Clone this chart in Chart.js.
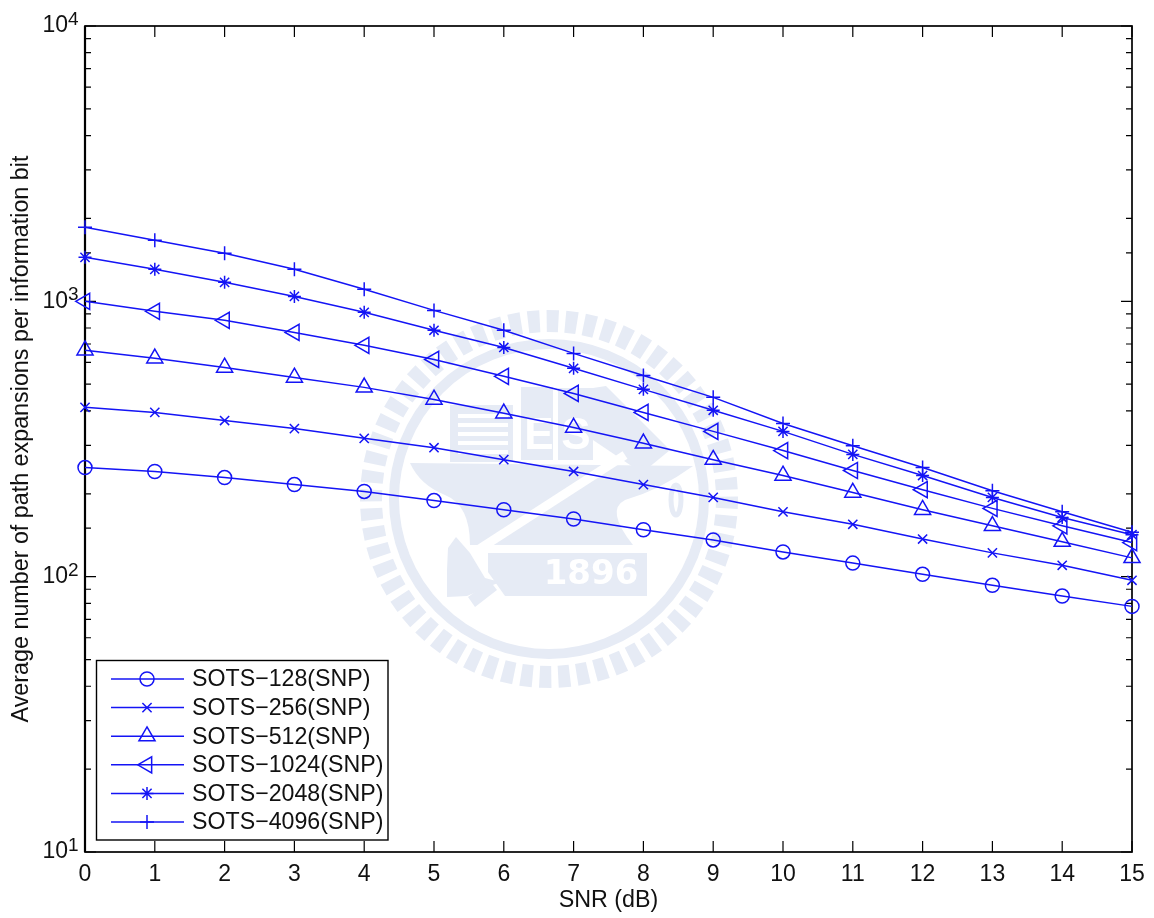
<!DOCTYPE html>
<html>
<head>
<meta charset="utf-8">
<title>SOTS path expansions</title>
<script src="https://cdn.jsdelivr.net/npm/chart.js@4/dist/chart.umd.js"></script>
<style>
  body { margin: 0; background: #fff; }
  canvas { display: block; }
</style>
</head>
<body>
<canvas id="chart" width="1154" height="918"></canvas>
<script>
const snr = ["0","1","2","3","4","5","6","7","8","9","10","11","12","13","14","15"];

const sots128 = [249,241,229,216,204,189,175,162,148,136,123,112,102,93,85,78];
const sots256 = [412,395,369,345,318,294,266,241,216,194,172,155,137,122,110,97];
const sots512 = [664,621,575,529,487,440,392,348,305,266,233,202,175,153,134,117];
const sots1024 = [1000,920,853,771,692,615,534,463,395,337,287,243,207,177,153,133];
const sots2048 = [1445,1307,1172,1042,912,785,680,571,479,402,337,278,233,194,164,142];
const sots4096 = [1858,1667,1495,1307,1106,927,785,647,538,448,360,299,249,205,172,145];

const seriesNames = ["SOTS\u2212128(SNP)","SOTS\u2212256(SNP)","SOTS\u2212512(SNP)","SOTS\u22121024(SNP)","SOTS\u22122048(SNP)","SOTS\u22124096(SNP)"];

const BLUE = "#1414f5";
const FONT = '"Liberation Sans", Arial, sans-serif';
const PALE = "#e6ebf5";

function makeSeries(name, data, style, radius, rotation) {
  return {
    label: name, data: data,
    borderColor: BLUE, borderWidth: 1.5, tension: 0, clip: false,
    pointStyle: style, pointRadius: radius, pointRotation: rotation || 0,
    pointBorderColor: BLUE, pointBackgroundColor: "rgba(0,0,0,0)", pointBorderWidth: 1.5
  };
}

function poly(ctx, pts) {
  ctx.beginPath();
  pts.forEach((p, i) => i ? ctx.lineTo(p[0], p[1]) : ctx.moveTo(p[0], p[1]));
  ctx.closePath();
  ctx.fill();
}

// university seal behind the plot
function drawSeal(ctx) {
  const cx = 549, cy = 499;
  ctx.save();
  ctx.fillStyle = PALE;
  ctx.strokeStyle = PALE;

  for (let i = 0; i < 60; i++) {
    const a = i * Math.PI / 30 + 0.02;
    const d = 0.033;
    ctx.beginPath();
    ctx.moveTo(cx + 167 * Math.cos(a - d), cy + 167 * Math.sin(a - d));
    ctx.lineTo(cx + 189 * Math.cos(a - d), cy + 189 * Math.sin(a - d));
    ctx.lineTo(cx + 189 * Math.cos(a + d), cy + 189 * Math.sin(a + d));
    ctx.lineTo(cx + 167 * Math.cos(a + d), cy + 167 * Math.sin(a + d));
    ctx.closePath();
    ctx.fill();
  }
  ctx.lineWidth = 10;
  ctx.beginPath();
  ctx.arc(cx, cy, 155, 0, Math.PI * 2);
  ctx.stroke();

  // striped block
  ctx.fillRect(450, 405, 63, 57);
  ctx.fillStyle = "#fff";
  for (let y = 414; y < 458; y += 9) ctx.fillRect(458, y, 50, 4);
  ctx.fillStyle = PALE;

  // letter blocks
  ctx.fillRect(521, 387, 32, 73);
  ctx.fillRect(558, 388, 35, 72);
  ctx.fillStyle = "#fff";
  ctx.font = 'bold 44px ' + FONT;
  ctx.textAlign = "center";
  ctx.textBaseline = "middle";
  ctx.fillText("E", 539, 437);
  ctx.fillText("S", 576, 437);
  ctx.fillStyle = PALE;

  // slanted shape on the right
  poly(ctx, [[593,388],[606,386],[670,450],[642,473],[593,440]]);

  // anvil
  ctx.beginPath();
  ctx.moveTo(410, 463);
  ctx.lineTo(693, 466);
  ctx.quadraticCurveTo(660, 490, 625, 500);
  ctx.quadraticCurveTo(605, 510, 633, 545);
  ctx.lineTo(516, 545);
  ctx.lineTo(470, 545);
  ctx.quadraticCurveTo(470, 505, 445, 495);
  ctx.quadraticCurveTo(420, 485, 410, 463);
  ctx.closePath();
  ctx.fill();

  // white handle across the anvil
  ctx.strokeStyle = "#fff";
  ctx.lineWidth = 9;
  ctx.beginPath();
  ctx.moveTo(625, 455);
  ctx.lineTo(470, 555);
  ctx.stroke();
  ctx.strokeStyle = PALE;

  // hammer head
  poly(ctx, [[456,537],[470,553],[485,578],[500,582],[467,596],[447,597],[447,570],[448,548]]);
  poly(ctx, [[468,597],[490,581],[497,590],[475,607]]);

  // 1896 banner
  poly(ctx, [[488,553],[647,553],[647,596],[505,596],[488,572]]);
  ctx.fillStyle = "#fff";
  ctx.font = 'bold 34px "DejaVu Sans", sans-serif';
  ctx.textAlign = "center";
  ctx.fillText("1896", 591, 575);
  ctx.fillStyle = PALE;

  // small 0 on the right
  ctx.lineWidth = 5;
  ctx.beginPath();
  ctx.ellipse(676, 500, 5, 15, 0, 0, Math.PI * 2);
  ctx.stroke();
  ctx.restore();
}

const figurePlugin = {
  id: "figure",
  beforeDraw(chart) {
    const ctx = chart.ctx;
    ctx.save();
    ctx.fillStyle = "#fff";
    ctx.fillRect(0, 0, chart.width, chart.height);
    ctx.restore();
    drawSeal(ctx);
  },
  beforeDatasetsDraw(chart) {
    const ctx = chart.ctx, a = chart.chartArea;
    const xs = chart.scales.x, ys = chart.scales.y;
    ctx.save();
    ctx.strokeStyle = "#000";
    ctx.lineWidth = 1.2;
    xs.ticks.forEach((t, i) => {
      const x = xs.getPixelForTick(i);
      ctx.beginPath();
      ctx.moveTo(x, a.bottom); ctx.lineTo(x, a.bottom - 11);
      ctx.moveTo(x, a.top); ctx.lineTo(x, a.top + 11);
      ctx.stroke();
    });
    ys.ticks.forEach(t => {
      const y = ys.getPixelForValue(t.value);
      const len = Number.isInteger(Math.log10(t.value)) ? 11 : 6;
      ctx.beginPath();
      ctx.moveTo(a.left, y); ctx.lineTo(a.left + len, y);
      ctx.moveTo(a.right, y); ctx.lineTo(a.right - len, y);
      ctx.stroke();
    });
    ctx.lineWidth = 1.7;
    ctx.strokeRect(a.left, a.top, a.right - a.left, a.bottom - a.top);
    ctx.lineWidth = 2.2;
    ctx.beginPath();
    ctx.moveTo(a.left, a.top); ctx.lineTo(a.left, a.bottom);
    ctx.stroke();

    // exponents of the decade labels
    ctx.fillStyle = "#111";
    ctx.font = "19px " + FONT;
    ctx.textAlign = "left";
    ctx.textBaseline = "alphabetic";
    ys.ticks.forEach(t => {
      const e = Math.log10(t.value);
      if (Number.isInteger(e)) ctx.fillText(String(e), 68, ys.getPixelForValue(t.value) - 1);
    });
    ctx.restore();
  },
  afterDatasetsDraw(chart) {
    // legend with line and marker samples
    const ctx = chart.ctx;
    ctx.save();
    ctx.fillStyle = "#fff";
    ctx.fillRect(96.5, 660.5, 291.5, 179.5);
    ctx.strokeStyle = "#000";
    ctx.lineWidth = 1.4;
    ctx.strokeRect(96.5, 660.5, 291.5, 179.5);
    chart.data.datasets.forEach((ds, i) => {
      const y = 679 + i * 28.6;
      ctx.strokeStyle = BLUE;
      ctx.lineWidth = 1.5;
      ctx.beginPath();
      ctx.moveTo(111, y); ctx.lineTo(184, y);
      ctx.stroke();
      ctx.fillStyle = "rgba(0,0,0,0)";
      Chart.helpers.drawPoint(ctx, {
        pointStyle: ds.pointStyle, radius: ds.pointRadius,
        rotation: ds.pointRotation, borderWidth: 1.5
      }, 147, y);
      ctx.fillStyle = "#111";
      ctx.font = "23.2px " + FONT;
      ctx.textAlign = "left";
      ctx.textBaseline = "middle";
      ctx.fillText(ds.label, 192, y + 1);
    });
    ctx.restore();
  }
};

new Chart(document.getElementById("chart"), {
  type: "line",
  data: {
    labels: snr,
    datasets: [
      makeSeries(seriesNames[0], sots128, "circle", 7),
      makeSeries(seriesNames[1], sots256, "crossRot", 6.5),
      makeSeries(seriesNames[2], sots512, "triangle", 9.3),
      makeSeries(seriesNames[3], sots1024, "triangle", 9.3, -90),
      makeSeries(seriesNames[4], sots2048, "star", 6.5),
      makeSeries(seriesNames[5], sots4096, "cross", 7)
    ]
  },
  plugins: [figurePlugin],
  options: {
    responsive: false,
    animation: false,
    devicePixelRatio: 1,
    layout: { padding: { top: 26, right: 22, left: 0, bottom: 0 } },
    plugins: { legend: { display: false }, tooltip: { enabled: false } },
    scales: {
      x: {
        grid: { display: false, drawTicks: false },
        border: { display: false },
        afterFit(s) { s.height = 66; },
        ticks: {
          color: "#111", maxRotation: 0, autoSkip: false, padding: 9,
          font: { family: FONT, size: 23 }
        },
        title: {
          display: true, text: "SNR (dB)", color: "#111",
          font: { family: FONT, size: 23.3 }, padding: { top: 0, bottom: 3 }
        }
      },
      y: {
        type: "logarithmic", min: 10, max: 10000,
        grid: { display: false, drawTicks: false },
        border: { display: false },
        afterFit(s) { s.width = 85; s.paddingTop = 0; s.paddingBottom = 0; },
        ticks: {
          color: "#111", autoSkip: false, padding: 17,
          font: { family: FONT, size: 23 },
          callback: v => Number.isInteger(Math.log10(v)) ? "10" : ""
        },
        title: {
          display: true, text: "Average number of path expansions per information bit", color: "#111",
          font: { family: FONT, size: 23.3 }, padding: { top: 8, bottom: 0 }
        }
      }
    }
  }
});
</script>
</body>
</html>
